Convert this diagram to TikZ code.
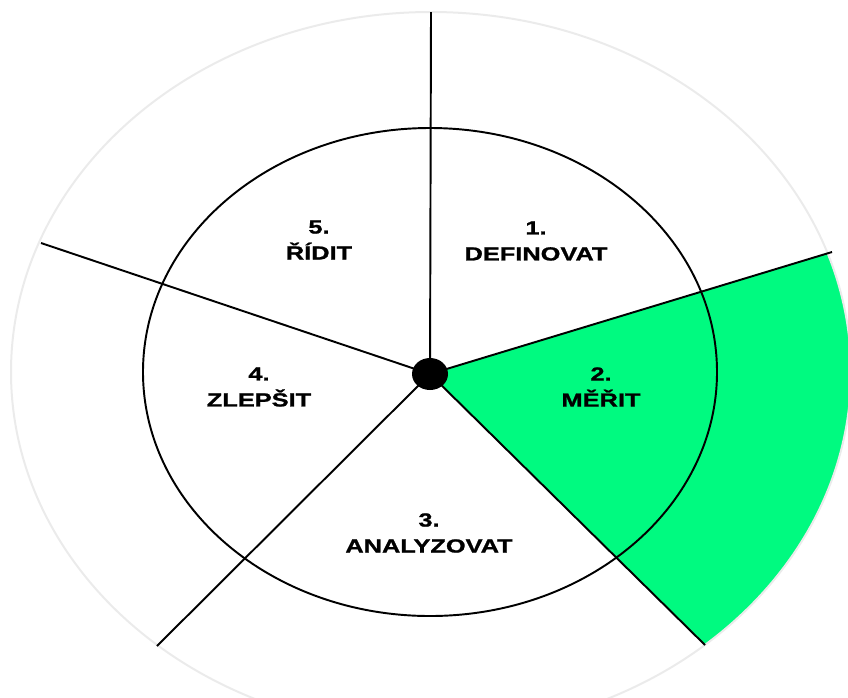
\documentclass[tikz,border=0pt]{standalone}
\usepackage{fontspec}
\setmainfont{Liberation Sans}
\newfontfamily\lblfont[FakeStretch=1.34,FakeBold=1.2]{Liberation Sans Bold}
\usetikzlibrary{calc}
\definecolor{sectgreen}{RGB}{0,250,128}
\begin{document}
\begin{tikzpicture}[x=0.75pt,y=-0.75pt,
  rim/.style={draw=black!8, line width=1.5pt},
  spoke/.style={draw=black, line width=1.45pt},
  lbl/.style={font=\lblfont\fontsize{14.2}{19.5}\selectfont, align=center, inner sep=0pt}]
\useasboundingbox (0,0) rectangle (848,697);
\clip (0,0) rectangle (848,697);
\coordinate (c) at (430,374);
\coordinate (oc) at (431,372);
\coordinate (p0) at (431,12);
\coordinate (p1) at (832,252);
\coordinate (p2) at (705,645);
\coordinate (p3) at (157,646);
\coordinate (p4) at (41,243);
\begin{scope}
  \clip (oc) ellipse [x radius=420, y radius=360];
  \fill[sectgreen] (c) -- ($(c)!2!(p1)$) -- (1400,500) -- ($(c)!2!(p2)$) -- cycle;
\end{scope}
\draw[rim] (oc) ellipse [x radius=420, y radius=360];
\draw[spoke] (430,372) ellipse [x radius=287, y radius=244];
\draw[spoke] (c) -- (p0);
\draw[spoke] (c) -- (p1);
\draw[spoke] (c) -- (p2);
\draw[spoke] (c) -- (p3);
\draw[spoke] (c) -- (p4);
\fill[black] (c) ellipse [x radius=18, y radius=16];
\node[lbl] (l1) at (536,241) {1.\\DEFINOVAT};
\node[lbl] (l2) at (601,387) {2.\\MĚŘIT};
\node[lbl] (l3) at (429,533) {3.\\ANALYZOVAT};
\node[lbl] (l4) at (259,387) {4.\\ZLEPŠIT};
\node[lbl] (l5) at (319,240) {5.\\ŘÍDIT};
\end{tikzpicture}
\end{document}
